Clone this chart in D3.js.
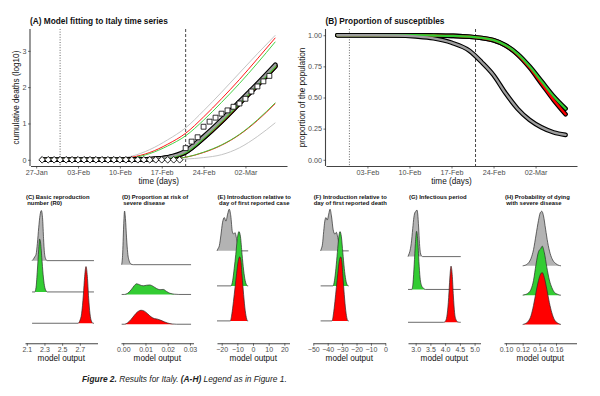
<!DOCTYPE html>
<html>
<head>
<meta charset="utf-8">
<script src="https://cdn.jsdelivr.net/npm/d3@7"></script>
<style>
  body { margin: 0; background: #fff; }
  svg { display: block; }
  text { font-family: "Liberation Sans", Arial, sans-serif; }
</style>
</head>
<body>
<svg id="fig" width="600" height="396"></svg>
<script>
// ---------- data: panel A (days since 27-Jan) ----------
const dateTicks = [0, 7, 14, 21, 28, 35];
const dateLabels = ["27-Jan", "03-Feb", "10-Feb", "17-Feb", "24-Feb", "02-Mar"];
const firstCaseDay = 4;    // 31-Jan
const firstDeathDay = 25;  // 21-Feb

const obsDays = [1, 2, 3, 4, 5, 6, 7, 8, 9, 10, 11, 12, 13, 14, 15, 16, 17, 18, 19, 20,
  21, 22, 23, 24, 25, 26, 27, 28, 29, 30, 31, 32, 33, 34, 35, 36, 37, 38, 39];
const obsDeaths = [0, 0, 0, 0, 0, 0, 0, 0, 0, 0, 0, 0, 0, 0, 0, 0, 0, 0, 0, 0,
  0, 0, 0, 0, 0.32, 0.5, 0.62, 0.91, 1.05, 1.16, 1.27, 1.36, 1.46, 1.55, 1.68, 1.88, 2.02, 2.16, 2.31];

const fitDays = [1, 10, 13, 16, 19, 22, 25, 28, 31, 34, 37, 40];
const greyHi = [0, 0.005, 0.03, 0.1, 0.28, 0.55, 0.88, 1.35, 1.86, 2.39, 2.92, 3.43];
const redHi = [0, 0.003, 0.02, 0.07, 0.2, 0.43, 0.73, 1.18, 1.68, 2.21, 2.78, 3.36];
const greenHi = [0, 0.003, 0.015, 0.05, 0.17, 0.38, 0.66, 1.09, 1.58, 2.1, 2.66, 3.25];
const greyMid = [0, 0, 0.002, 0.005, 0.02, 0.07, 0.24, 0.64, 1.1, 1.6, 2.1, 2.62];
const greenMid = [0, 0, 0.002, 0.004, 0.015, 0.06, 0.21, 0.6, 1.06, 1.56, 2.06, 2.58];
const redMid = [0, 0, 0.002, 0.004, 0.015, 0.06, 0.21, 0.6, 1.05, 1.55, 2.05, 2.57];
const greenLo = [0, 0, 0, 0, 0.005, 0.02, 0.07, 0.21, 0.41, 0.7, 1.1, 1.57];
const redLo = [0, 0, 0, 0, 0.005, 0.02, 0.07, 0.2, 0.4, 0.69, 1.08, 1.55];
const greyLo = [0, 0, 0, 0, 0, 0.003, 0.02, 0.06, 0.14, 0.33, 0.64, 1.02];

// ---------- data: panel B ----------
const suscDays = [2, 8, 12, 15, 18, 21, 24, 26, 28, 30, 32, 34, 36, 38, 40];
const suscGrey = [1, 1, 0.998, 0.99, 0.975, 0.94, 0.875, 0.785, 0.68, 0.535, 0.41, 0.32, 0.26, 0.22, 0.2];
const suscGreen = [1, 1, 1, 1, 0.998, 0.995, 0.988, 0.978, 0.96, 0.92, 0.85, 0.75, 0.63, 0.51, 0.41];
const suscRed = [1, 1, 1, 1, 0.998, 0.995, 0.988, 0.978, 0.96, 0.918, 0.845, 0.74, 0.61, 0.48, 0.365];
const propTicks = [0, 0.25, 0.5, 0.75, 1];

// ---------- data: ridge panels C-H, [value, height] ----------
const r0Grey = [[2.17, 0.03], [2.19, 0.12], [2.205, 0.2], [2.22, 0.55], [2.235, 1.05], [2.25, 1.45], [2.265, 1.6], [2.28, 1.3], [2.29, 0.7], [2.3, 0.25], [2.315, 0.05], [2.33, 0]];
const r0Green = [[2.19, 0], [2.205, 0.15], [2.22, 0.7], [2.235, 1.35], [2.245, 1.69], [2.255, 1.6], [2.27, 1.1], [2.285, 0.55], [2.3, 0.2], [2.32, 0.03], [2.33, 0]];
const r0Red = [[2.68, 0], [2.7, 0.08], [2.72, 0.3], [2.74, 0.9], [2.755, 1.5], [2.77, 1.81], [2.785, 1.5], [2.8, 0.8], [2.815, 0.3], [2.83, 0.08], [2.85, 0]];

const sevGrey = [[-0.0003, 0.3], [0.0002, 1.3], [0.0006, 1.8], [0.001, 1.55], [0.0015, 0.9], [0.002, 0.4], [0.0027, 0.12], [0.0035, 0.02], [0.0045, 0]];
const sevGreen = [[0.0005, 0], [0.002, 0.04], [0.0035, 0.15], [0.005, 0.3], [0.006, 0.36], [0.0075, 0.32], [0.009, 0.29], [0.0105, 0.31], [0.012, 0.32], [0.0135, 0.27], [0.015, 0.2], [0.0165, 0.16], [0.018, 0.17], [0.0195, 0.1], [0.021, 0.04], [0.023, 0.01], [0.025, 0]];
const sevRed = [[0.0005, 0], [0.002, 0.05], [0.0035, 0.16], [0.005, 0.3], [0.0065, 0.42], [0.008, 0.47], [0.0095, 0.44], [0.011, 0.35], [0.0125, 0.25], [0.014, 0.19], [0.0155, 0.17], [0.017, 0.13], [0.0185, 0.08], [0.02, 0.04], [0.022, 0.01], [0.024, 0]];

const caseGrey = [[-22.5, 0.05], [-21.5, 0.15], [-20.5, 0.45], [-19.5, 0.8], [-18.3, 0.95], [-17.3, 0.85], [-16.2, 1.05], [-15.2, 1.19], [-14.2, 1.0], [-13.2, 0.55], [-12.3, 0.48], [-11.5, 0.52], [-10.5, 0.35], [-9.5, 0.15], [-8.5, 0.05], [-7.5, 0]];
const caseGreen = [[-14, 0], [-13, 0.15], [-12, 0.5], [-11, 0.9], [-10, 1.35], [-9, 1.55], [-8, 1.4], [-7, 0.9], [-6, 0.45], [-5, 0.15], [-4, 0.02], [-3.5, 0]];
const caseRed = [[-14.5, 0], [-13.5, 0.2], [-12.5, 0.55], [-11.5, 0.95], [-10.5, 1.35], [-9.5, 1.7], [-8.5, 1.83], [-7.7, 1.7], [-7, 1.3], [-6, 0.75], [-5, 0.3], [-4, 0.05], [-3.5, 0]];

const deathGrey = [[-44.5, 0.05], [-43.6, 0.2], [-42.8, 0.55], [-42, 0.85], [-41.2, 0.95], [-40.3, 0.88], [-39.3, 1.05], [-38.4, 1.19], [-37.4, 1.0], [-36.2, 0.6], [-35, 0.48], [-34, 0.53], [-33, 0.38], [-32, 0.18], [-31, 0.06], [-30, 0]];
const deathGreen = [[-36.3, 0], [-35.3, 0.15], [-34.3, 0.5], [-33.3, 0.95], [-32.3, 1.4], [-31.5, 1.55], [-30.5, 1.4], [-29.5, 0.95], [-28.5, 0.5], [-27.5, 0.18], [-26.5, 0.03], [-26, 0]];
const deathRed = [[-37, 0], [-36, 0.2], [-35, 0.55], [-34, 0.95], [-33, 1.35], [-32, 1.7], [-31, 1.83], [-30.2, 1.7], [-29.5, 1.3], [-28.5, 0.75], [-27.5, 0.3], [-26.5, 0.05], [-26, 0]];

const infGrey = [[2.76, 0.05], [2.8, 0.15], [2.85, 0.4], [2.9, 0.85], [2.94, 1.2], [2.98, 1.35], [3.01, 1.38], [3.04, 1.42], [3.07, 1.3], [3.1, 0.9], [3.13, 0.4], [3.16, 0.12], [3.2, 0.02], [3.24, 0]];
const infGreen = [[2.87, 0], [2.91, 0.2], [2.95, 0.75], [2.99, 1.4], [3.03, 1.77], [3.07, 1.5], [3.11, 0.85], [3.15, 0.35], [3.2, 0.12], [3.25, 0.05], [3.3, 0.01], [3.33, 0]];
const infRed = [[3.95, 0], [4.02, 0.05], [4.07, 0.25], [4.12, 0.75], [4.16, 1.35], [4.2, 1.71], [4.24, 1.45], [4.28, 0.8], [4.32, 0.3], [4.37, 0.08], [4.43, 0.01], [4.48, 0]];

const fatGrey = [[0.123, 0.02], [0.127, 0.1], [0.13, 0.25], [0.133, 0.55], [0.136, 1.05], [0.139, 1.55], [0.141, 1.8], [0.143, 1.86], [0.145, 1.7], [0.1475, 1.25], [0.15, 0.8], [0.153, 0.42], [0.156, 0.2], [0.16, 0.07], [0.164, 0.01]];
const fatGreen = [[0.123, 0.02], [0.127, 0.08], [0.13, 0.2], [0.133, 0.5], [0.136, 1.05], [0.139, 1.48], [0.1415, 1.58], [0.1435, 1.67], [0.146, 1.45], [0.149, 0.95], [0.152, 0.52], [0.155, 0.26], [0.158, 0.1], [0.162, 0.03], [0.165, 0]];
const fatRed = [[0.123, 0.03], [0.127, 0.12], [0.13, 0.3], [0.133, 0.65], [0.136, 1.1], [0.139, 1.5], [0.1415, 1.72], [0.1435, 1.77], [0.146, 1.6], [0.149, 1.2], [0.152, 0.75], [0.155, 0.4], [0.158, 0.17], [0.162, 0.05], [0.165, 0.01]];

const ridgeTitles = [
  ["(C) Basic reproduction", "number (R0)"],
  ["(D) Proportion at risk of", "severe disease"],
  ["(E) Introduction relative to", "day of first reported case"],
  ["(F) Introduction relative to", "day of first reported death"],
  ["(G) Infectious period", ""],
  ["(H) Probability of dying", "with severe disease"]
];
const ridgeTicks = [[2.1, 2.3, 2.5, 2.7], [0, 0.01, 0.02, 0.03], [-20, -10, 0, 10, 20],
  [-50, -40, -30, -20, -10, 0], [3, 3.5, 4, 4.5, 5], [0.1, 0.12, 0.14, 0.16]];
const ridgeTickLabels = [["2.1", "2.3", "2.5", "2.7"], ["0.00", "0.01", "0.02", "0.03"],
  ["\u221220", "\u221210", "0", "10", "20"], ["\u221250", "\u221240", "\u221230", "\u221220", "\u221210", "0"],
  ["3.0", "3.5", "4.0", "4.5", "5.0"], ["0.10", "0.12", "0.14", "0.16"]];
const ridgeLimits = [[2.08, 2.9], [-0.001, 0.0316], [-23, 23.3], [-50.2, 0.1], [2.74, 5.2], [0.0976, 0.1846]];
const ridgeRanges = [[2.16, 2.86], [-0.0007, 0.0305], [-23, -3.1], [-44.9, -25.4], [2.74, 4.53], [0.12, 0.166]];
const ridgeDens = [[r0Grey, r0Green, r0Red], [sevGrey, sevGreen, sevRed], [caseGrey, caseGreen, caseRed],
  [deathGrey, deathGreen, deathRed], [infGrey, infGreen, infRed], [fatGrey, fatGreen, fatRed]];
const ridgePos = [3, 2, 1];

// ---------- style ----------
const GREY = "#b3b3b3", GREEN = "#33cc33", RED = "#ff0000";
const fillCols = [GREY, GREEN, RED];
const tickCol = "#4d4d4d";

const svg = d3.select("#fig");
const pad5 = ([a, b]) => [a - 0.05 * (b - a), b + 0.05 * (b - a)];

function styleAxis(g, size) {
  g.attr("font-size", size).attr("font-family", "Liberation Sans, Arial, sans-serif");
  g.select(".domain").attr("stroke", "#444").attr("stroke-width", 1.1);
  g.selectAll(".tick line").attr("stroke", "#333").attr("stroke-width", 0.7);
  g.selectAll(".tick text").attr("fill", tickCol);
}

function timePanel(opts) {
  const { left, right, top, bottom, xDomain, yDomain } = opts;
  const x = d3.scaleLinear().domain(xDomain).range([left, right]);
  const y = d3.scaleLinear().domain(yDomain).range([bottom, top]);
  const g = svg.append("g");

  // reference days
  g.append("line").attr("x1", x(firstCaseDay)).attr("x2", x(firstCaseDay))
    .attr("y1", top).attr("y2", bottom)
    .attr("stroke", "#555").attr("stroke-width", 0.9).attr("stroke-dasharray", "1,1.6");
  g.append("line").attr("x1", x(firstDeathDay)).attr("x2", x(firstDeathDay))
    .attr("y1", top).attr("y2", bottom)
    .attr("stroke", "#333").attr("stroke-width", 0.9).attr("stroke-dasharray", "3,2");

  const ticks = dateTicks.filter(d => d >= xDomain[0]);
  const ax = g.append("g").attr("transform", `translate(0,${bottom})`)
    .call(d3.axisBottom(x).tickValues(ticks)
      .tickFormat(d => dateLabels[dateTicks.indexOf(d)])
      .tickSize(2.5).tickPadding(1.5).tickSizeOuter(0));
  styleAxis(ax, 7.2);

  const ay = g.append("g").attr("transform", `translate(${left},0)`)
    .call(d3.axisLeft(y).tickValues(opts.yTicks).tickFormat(opts.yFormat)
      .tickSize(2.5).tickPadding(1.5).tickSizeOuter(0));
  styleAxis(ay, 7.2);
  ay.select(".domain").attr("d", `M-0.5,${top}V${bottom}`);

  g.append("text").attr("x", (left + right) / 2).attr("y", 184.3)
    .attr("text-anchor", "middle").attr("font-size", 8.2).attr("fill", "#111")
    .text("time (days)");
  g.append("text").attr("transform", `translate(${opts.yTitleX},97.5) rotate(-90)`)
    .attr("text-anchor", "middle").attr("font-size", 8.2).attr("fill", "#111")
    .text(opts.yTitle);
  g.append("text").attr("x", left - 0.5).attr("y", 23.7)
    .attr("font-size", 8.3).attr("font-weight", "bold").attr("fill", "#111")
    .text(opts.title);
  return { g, x, y };
}

function thick(g, x, y, days, series, cols) {
  const line = d3.line().x((d, i) => x(days[i])).y(d => y(d)).curve(d3.curveMonotoneX);
  series.forEach(s => g.append("path").attr("d", line(s)).attr("fill", "none")
    .attr("stroke", "#000").attr("stroke-width", 4.6).attr("stroke-linecap", "round"));
  series.forEach((s, i) => g.append("path").attr("d", line(s)).attr("fill", "none")
    .attr("stroke", cols[i]).attr("stroke-width", 2.3).attr("stroke-linecap", "round"));
}

// ---------- panel A ----------
{
  const { g, x, y } = timePanel({
    left: 30.5, right: 287, top: 29, bottom: 166,
    xDomain: pad5(d3.extent(fitDays)), yDomain: pad5([0, d3.max(greyHi)]),
    yTicks: [0, 1, 2, 3], yFormat: d3.format("d"),
    yTitle: "cumulative deaths (log10)", yTitleX: 18.5,
    title: "(A) Model fitting to Italy time series"
  });
  const line = d3.line().x((d, i) => x(fitDays[i])).y(d => y(d)).curve(d3.curveMonotoneX);
  [[greyHi, "#bdbdbd"], [greyLo, "#bdbdbd"], [redHi, RED], [redLo, RED], [greenHi, GREEN], [greenLo, GREEN]]
    .forEach(([s, c]) => g.append("path").attr("d", line(s)).attr("fill", "none")
      .attr("stroke", c).attr("stroke-width", 0.9));
  thick(g, x, y, fitDays, [redMid, greenMid, greyMid], [RED, GREEN, "#9e9e9e"]);

  g.selectAll(".obs").data(obsDays).join("path")
    .attr("transform", (d, i) => `translate(${x(d)},${y(obsDeaths[i])})` + (obsDeaths[i] === 0 ? " rotate(45)" : ""))
    .attr("d", (d, i) => d3.symbol(d3.symbolSquare, obsDeaths[i] === 0 ? 22 : 24)())
    .attr("fill", "#fff").attr("stroke", "#000").attr("stroke-width", 0.8);
}

// ---------- panel B ----------
{
  const { g, x, y } = timePanel({
    left: 326, right: 577, top: 29, bottom: 166,
    xDomain: pad5(d3.extent(suscDays)), yDomain: pad5([0, 1]),
    yTicks: propTicks, yFormat: d3.format(".2f"),
    yTitle: "proportion of the population", yTitleX: 305,
    title: "(B) Proportion of susceptibles"
  });
  thick(g, x, y, suscDays, [suscRed, suscGreen, suscGrey], [RED, GREEN, "#9e9e9e"]);
}

// ---------- ridge panels C-H ----------
const ridgeLeft = [25, 121, 217, 313, 408, 504], ridgeW = 72.5;
const ridgeAxisY = 343.3, ridgeTopY = 221.8;
const titleCentered = [false, false, true, true, false, false];

ridgeDens.forEach((dens, i) => {
  const g = svg.append("g");
  const x0 = ridgeLeft[i], x1 = x0 + ridgeW;
  const x = d3.scaleLinear().domain(ridgeLimits[i]).range([x0, x1]);
  const maxTop = d3.max(dens, (d, j) => ridgePos[j] + d3.max(d, e => e[1]));
  const y = d3.scaleLinear().domain([1 - 0.64, maxTop - 0.36]).range([ridgeAxisY, ridgeTopY]);

  dens.forEach((d, j) => {
    const pts = [[ridgeRanges[i][0], 0], ...d, [ridgeRanges[i][1], 0]];
    const pos = ridgePos[j];
    const area = d3.area().x(p => x(p[0])).y0(y(pos)).y1(p => y(pos + p[1])).curve(d3.curveMonotoneX);
    const top = d3.line().x(p => x(p[0])).y(p => y(pos + p[1])).curve(d3.curveMonotoneX);
    g.append("path").attr("d", area(pts)).attr("fill", fillCols[j]);
    g.append("path").attr("d", top(pts)).attr("fill", "none")
      .attr("stroke", "#2b2b2b").attr("stroke-width", 0.7);
  });

  const ax = g.append("g").attr("transform", `translate(0,${ridgeAxisY})`)
    .call(d3.axisBottom(x).tickValues(ridgeTicks[i])
      .tickFormat((d, k) => ridgeTickLabels[i][k])
      .tickSize(2.5).tickPadding(1.5).tickSizeOuter(0));
  styleAxis(ax, 7);

  g.append("text").attr("x", (x0 + x1) / 2).attr("y", 361)
    .attr("text-anchor", "middle").attr("font-size", 8.2).attr("fill", "#111")
    .text("model output");

  const tx = titleCentered[i] ? (x0 + x1) / 2 + 1 : x0 + 1;
  ridgeTitles[i].forEach((t, k) => g.append("text")
    .attr("x", tx + (k && !titleCentered[i] ? 1.2 : 0)).attr("y", 199.3 + k * 6)
    .attr("text-anchor", titleCentered[i] ? "middle" : "start")
    .attr("font-size", 5.9).attr("font-weight", "bold").attr("fill", "#111")
    .text(t));
});

// ---------- caption ----------
{
  const cap = svg.append("text").attr("x", 82).attr("y", 381.5)
    .attr("font-family", "Roboto, 'Noto Sans', sans-serif").attr("font-style", "italic")
    .attr("font-size", 8).attr("fill", "#222");
  cap.append("tspan").attr("font-weight", "bold").text("Figure 2.");
  cap.append("tspan").text(" Results for Italy. ");
  cap.append("tspan").attr("font-weight", "bold").text("(A-H)");
  cap.append("tspan").text(" Legend as in Figure 1.");
  const w = cap.node().getComputedTextLength();
  cap.attr("font-size", 8 * 205 / w);
}
</script>
</body>
</html>
